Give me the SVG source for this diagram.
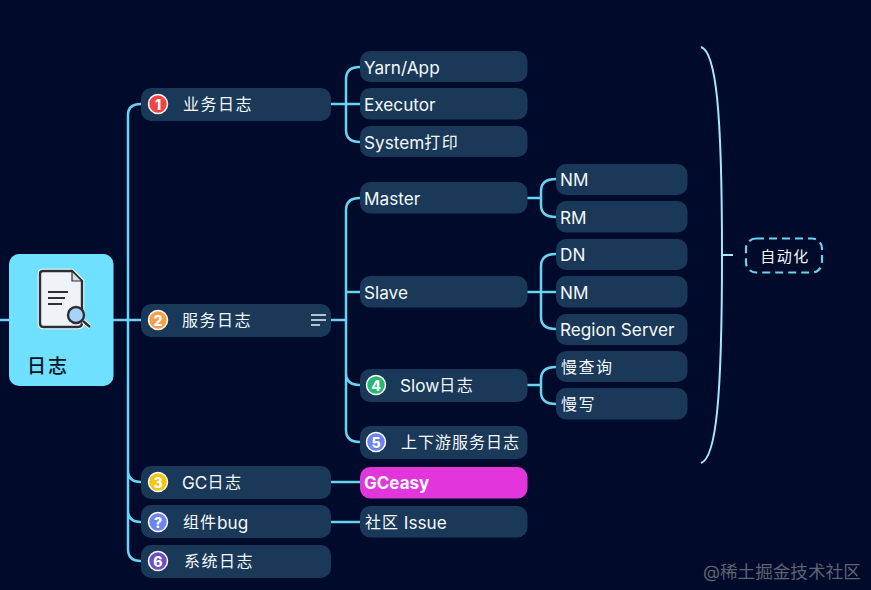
<svg xmlns="http://www.w3.org/2000/svg" width="871" height="590" viewBox="0 0 871 590">
<style>
text{font-family:"Inter","Noto Sans CJK SC",sans-serif;font-size:16px;fill:#f4f8fb;dominant-baseline:central}
.n{fill:#1a3857}
.c{fill:none;stroke:#69d3f2;stroke-width:2.5}
.b{stroke:#fff;stroke-width:1.5}
.i{font-size:14px;font-weight:800;text-anchor:middle;fill:#fff}
.s{letter-spacing:1.5px}
.l{font-size:17.2px}
</style>
<rect width="871" height="590" fill="#000a2a"/>
<g id="connectors">
<path class="c" d="M0 320H141M128 320V115Q128 104 141 104M128 320V470Q128 482 141 482M128 470V510Q128 522 141 522M128 510V549Q128 561 141 561"/>
<path class="c" d="M331 104H360M346 104V79Q346 67 360 67M346 104V130Q346 142 360 142"/>
<path class="c" d="M331 320H346M346 320V210Q346 198 360 198M346 292H360M346 320V373Q346 385 360 385M346 373V430Q346 442 360 442"/>
<path class="c" d="M527 198H541M541 198V191Q541 179 556 179M541 198V205Q541 217 556 217"/>
<path class="c" d="M527 292H556M541 292V266Q541 254 556 254M541 292V317Q541 329 556 329"/>
<path class="c" d="M527 385H541M541 385V379Q541 367 556 367M541 385V392Q541 404 556 404"/>
<path class="c" d="M331 482H360M331 522H360"/>
<path d="M701 47C716 52 722 110 722 255C722 400 716 458 701 463M722 255H733" fill="none" stroke="#a5e8fb" stroke-width="2"/>
</g>
<g id="root">
<rect x="9" y="254" width="104.500" height="132" rx="10" fill="#6fe0ff"/>
<path d="M43 271H72L82 281V323Q82 327 78 327H43Q40 327 40 323V274Q40 271 43 271Z" fill="#f0f3f6" stroke="#fff" stroke-width="4.500"/>
<path d="M43 271H72L82 281V323Q82 327 78 327H43Q40 327 40 323V274Q40 271 43 271Z" fill="#f0f3f6" stroke="#2b2f36" stroke-width="2.400"/>
<path d="M72 271V281H82Z" fill="#d9dde2" stroke="#2b2f36" stroke-width="1.200"/>
<path d="M48 292H68M48 298H65M48 304H62" stroke="#2b2f36" stroke-width="1.800" fill="none"/>
<path d="M83 321L90 327" stroke="#fff" stroke-width="4.500"/>
<path d="M83 321L90 327" stroke="#2b2f36" stroke-width="2.500"/>
<circle cx="76" cy="315" r="8" fill="#a7d3fb" stroke="#2b2f36" stroke-width="2.400"/>
<text x="27" y="366" style="font-size:19px;fill:#06121f;font-weight:500;letter-spacing:2px">日志</text>
</g>
<g id="n1"><rect class="n" x="141" y="88" width="190" height="33" rx="10"/><circle class="b" cx="158" cy="104" r="9.500" fill="#f14545"/><text class="i" x="158" y="104">1</text><text class="s" x="183" y="104">业务日志</text></g>
<g id="n2"><rect class="n" x="141" y="304" width="190" height="33" rx="10"/><circle class="b" cx="158" cy="320" r="9.500" fill="#f7a04b"/><text class="i" x="158" y="320">2</text><text class="s" x="182" y="320">服务日志</text><path d="M311 315H326M311 320H326M311 325H320" stroke="#e8eff5" stroke-width="1.500"/></g>
<g id="n3"><rect class="n" x="141" y="466" width="190" height="33" rx="10"/><circle class="b" cx="158" cy="482" r="9.500" fill="#f2c511"/><text class="i" x="158" y="482">3</text><text class="l" x="182" y="482">GC<tspan style="font-size:16px;letter-spacing:1.500px">日志</tspan></text></g>
<g id="n4"><rect class="n" x="141" y="505" width="190" height="33" rx="10"/><circle class="b" cx="158" cy="522" r="9.500" fill="#6c83f0"/><text class="i" x="158" y="522">?</text><text class="l" x="183" y="522"><tspan style="font-size:16px;letter-spacing:1px">组件</tspan>bug</text></g>
<g id="n5"><rect class="n" x="141" y="545" width="190" height="33" rx="10"/><circle class="b" cx="158" cy="561" r="9.500" fill="#6d4fc4"/><text class="i" x="158" y="561">6</text><text class="s" x="184" y="561">系统日志</text></g>
<g id="n6"><rect class="n" x="360" y="51" width="167.500" height="31" rx="10"/><text class="l" x="364" y="67">Yarn/App</text></g>
<g id="n7"><rect class="n" x="360" y="88" width="167.500" height="31.500" rx="10"/><text class="l" x="364" y="104">Executor</text></g>
<g id="n8"><rect class="n" x="360" y="126" width="167.500" height="31" rx="10"/><text class="l" x="364" y="142">System<tspan style="font-size:16px;letter-spacing:1.500px">打印</tspan></text></g>
<g id="n9"><rect class="n" x="360" y="182" width="167.500" height="31.500" rx="10"/><text class="l" x="364" y="198">Master</text></g>
<g id="n10"><rect class="n" x="360" y="276" width="167.500" height="31.500" rx="10"/><text class="l" x="364" y="292">Slave</text></g>
<g id="n11"><rect class="n" x="360" y="369" width="167.500" height="33" rx="10"/><circle class="b" cx="376" cy="385" r="9.500" fill="#27b873"/><text class="i" x="376" y="385">4</text><text class="l" x="400" y="385">Slow<tspan style="font-size:16px;letter-spacing:1.500px">日志</tspan></text></g>
<g id="n12"><rect class="n" x="360" y="426" width="167.500" height="33" rx="10"/><circle class="b" cx="376" cy="442" r="9.500" fill="#6c83f0"/><text class="i" x="376" y="442">5</text><text class="s" x="401" y="442" style="letter-spacing:1px">上下游服务日志</text></g>
<g id="n13"><rect x="360" y="467" width="167.500" height="31.500" rx="10" fill="#e236dc"/><text x="364" y="482.500" style="font-weight:700;font-size:17px">GCeasy</text></g>
<g id="n14"><rect class="n" x="360" y="506" width="167.500" height="31.500" rx="10"/><text class="l" x="365" y="522"><tspan style="font-size:16px;letter-spacing:1px">社区</tspan> Issue</text></g>
<g id="n15"><rect class="n" x="556" y="164" width="131.500" height="31" rx="10"/><text class="l" x="560" y="179">NM</text></g>
<g id="n16"><rect class="n" x="556" y="201" width="131.500" height="31.500" rx="10"/><text class="l" x="560" y="217">RM</text></g>
<g id="n17"><rect class="n" x="556" y="239" width="131.500" height="31" rx="10"/><text class="l" x="560" y="254">DN</text></g>
<g id="n18"><rect class="n" x="556" y="276" width="131.500" height="31.500" rx="10"/><text class="l" x="560" y="292">NM</text></g>
<g id="n19"><rect class="n" x="556" y="314" width="131.500" height="31" rx="10"/><text class="l" x="560" y="329">Region Server</text></g>
<g id="n20"><rect class="n" x="556" y="351" width="131.500" height="31" rx="10"/><text class="s" x="561" y="367">慢查询</text></g>
<g id="n21"><rect class="n" x="556" y="388" width="131.500" height="31.500" rx="10"/><text class="s" x="561" y="404">慢写</text></g>
<g id="n22"><rect x="746" y="238.500" width="76" height="34" rx="10" fill="none" stroke="#69d3f2" stroke-width="2.200" stroke-dasharray="8 5"/><text x="785" y="256" text-anchor="middle" style="font-size:15px;letter-spacing:1.500px">自动化</text></g>
<text x="703" y="571" style="font-size:17.600px;fill:#5d6373">@稀土掘金技术社区</text>
</svg>
